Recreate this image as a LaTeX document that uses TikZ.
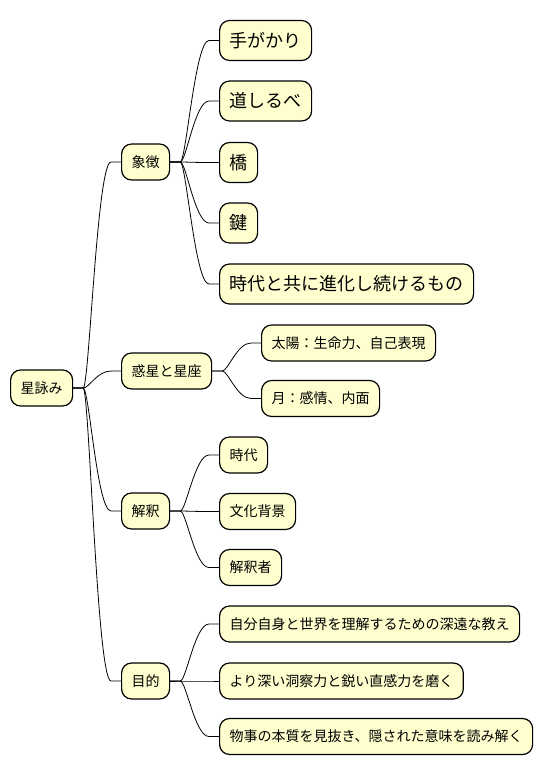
\documentclass[tikz,border=0pt]{standalone}
\usepackage{fontspec}
\setmainfont{Noto Sans CJK JP}
\definecolor{notefill}{HTML}{FEFECE}

\begin{document}
\begin{tikzpicture}[x=1pt,y=-1pt,
		topic/.style={draw=black, line width=1.2pt, fill=notefill, rounded corners=10pt,
			inner xsep=10pt, inner ysep=0pt, minimum height=36pt, anchor=west,
			font=\fontsize{14}{16}\selectfont},
		bigtopic/.style={topic, minimum height=40pt, font=\fontsize{18}{20}\selectfont},
		branch/.style={draw=black, line width=0.8pt,
			to path={-- ++(10,0) .. controls +(6,0) and +(-14,0) .. ([xshift=-10pt]\tikztotarget) -- (\tikztotarget)}}]
		\useasboundingbox (0,0) rectangle (544,776);

		\node[topic] (root) at (10,388) {星詠み};

		\node[topic] (symbol) at (121,162) {象徴};
		\node[bigtopic] (clue) at (219,40.5) {手がかり};
		\node[bigtopic] (guide) at (219,101) {道しるべ};
		\node[bigtopic] (bridge) at (219,162.5) {橋};
		\node[bigtopic] (key) at (219,223) {鍵};
		\node[bigtopic] (evolve) at (219,284) {時代と共に進化し続けるもの};

		\node[topic] (planet) at (121,371) {惑星と星座};
		\node[topic] (sun) at (261,343) {太陽：生命力、自己表現};
		\node[topic] (moon) at (261,398.5) {月：感情、内面};

		\node[topic] (interp) at (121,511) {解釈};
		\node[topic] (era) at (219,455) {時代};
		\node[topic] (culture) at (219,511.5) {文化背景};
		\node[topic] (reader) at (219,567.5) {解釈者};

		\node[topic] (purpose) at (121,681) {目的};
		\node[topic] (teach) at (219,624) {自分自身と世界を理解するための深遠な教え};
		\node[topic] (sharpen) at (219,681) {より深い洞察力と鋭い直感力を磨く};
		\node[topic] (decode) at (219,736.5) {物事の本質を見抜き、隠された意味を読み解く};

		\foreach \p/\c in {root/symbol, root/planet, root/interp, root/purpose,
				symbol/clue, symbol/guide, symbol/bridge, symbol/key, symbol/evolve,
				planet/sun, planet/moon,
				interp/era, interp/culture, interp/reader,
				purpose/teach, purpose/sharpen, purpose/decode}
			\draw[branch] (\p.east) to (\c.west);
	\end{tikzpicture}
\end{document}
